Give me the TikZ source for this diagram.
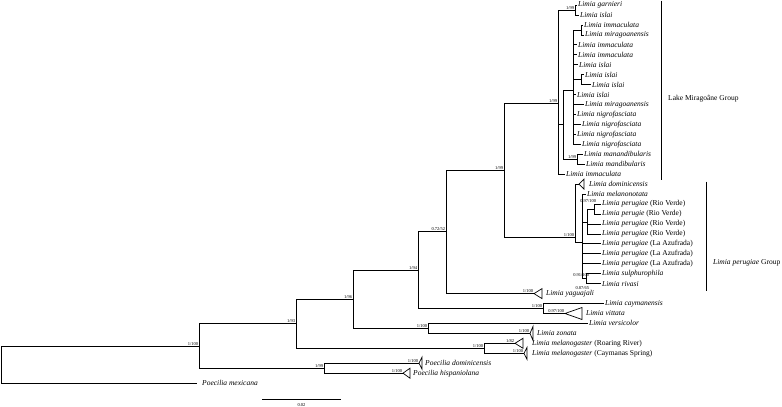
\documentclass[tikz,border=0pt]{standalone}
\usepackage{fontspec}
\setmainfont{Liberation Serif}

\tikzset{
  branch/.style={line width=0.7pt},
  taxon/.style={anchor=west, inner sep=1pt, font=\fontsize{7.5}{8}\selectfont\itshape},
  group/.style={anchor=west, inner sep=0pt, font=\fontsize{7.5}{8}\selectfont},
  support/.style={anchor=south east, inner sep=0.6pt, font=\fontsize{4.5}{5}\selectfont}
}

\begin{document}
\begin{tikzpicture}[x=1pt, y=-1pt]
    \useasboundingbox (0,0) rectangle (782,407);

    \coordinate (root) at (1,364.5);
    \coordinate (nA) at (199,346);
    \coordinate (nB) at (296,323.8);
    \coordinate (nPc) at (324,368.2);
    \coordinate (nC) at (353,299.3);
    \coordinate (nMel) at (484,348.3);
    \coordinate (nE) at (418,270.2);
    \coordinate (nD) at (428,328.4);
    \coordinate (nF) at (446,231.8);
    \coordinate (nG) at (543,308.5);
    \coordinate (nH) at (504,170);
    \coordinate (nM) at (558,103);
    \coordinate (nP) at (575,237);
    \coordinate (nGI) at (575,10);
    \coordinate (nN1) at (563,124.7);
    \coordinate (nN2) at (573,90);
    \coordinate (nIM) at (581,29.9);
    \coordinate (nII) at (581,79.7);
    \coordinate (nMM) at (577,159.3);
    \coordinate (nQ) at (582,242.7);
    \coordinate (nR) at (587,222);
    \coordinate (nS) at (594,209);
    \coordinate (nT) at (586,278.7);

    \coordinate (tGar) at (577,5);
    \coordinate (tIsl1) at (579,15);
    \coordinate (tImm2) at (583,24.9);
    \coordinate (tMir3) at (584,34.9);
    \coordinate (tImm4) at (577,44.8);
    \coordinate (tImm5) at (577,54.8);
    \coordinate (tIsl6) at (578,64.7);
    \coordinate (tIsl7) at (584,74.7);
    \coordinate (tIsl8) at (591,84.6);
    \coordinate (tIsl9) at (576,94.6);
    \coordinate (tMir10) at (584,104.5);
    \coordinate (tNig11) at (576,114.5);
    \coordinate (tNig12) at (581,124.4);
    \coordinate (tNig13) at (576,134.4);
    \coordinate (tNig14) at (581,144.3);
    \coordinate (tMan) at (583,154.3);
    \coordinate (tMand) at (585,164.2);
    \coordinate (tImm17) at (565,174.2);
    \coordinate (tDom) at (579,184.1);
    \coordinate (tMelan) at (586,194.1);
    \coordinate (tRV1) at (601,204);
    \coordinate (tRV2) at (601,214);
    \coordinate (tRV3) at (601,223.9);
    \coordinate (tRV4) at (601,233.9);
    \coordinate (tLA1) at (601,243.8);
    \coordinate (tLA2) at (601,253.8);
    \coordinate (tLA3) at (601,263.7);
    \coordinate (tSul) at (601,273.7);
    \coordinate (tRiv) at (601,283.6);
    \coordinate (tYag) at (534,293.6);
    \coordinate (tCay) at (604,303.5);
    \coordinate (tVit) at (565,313.5);
    \coordinate (tVer) at (588,323.4);
    \coordinate (tZon) at (530,333.4);
    \coordinate (tRR) at (515,343.3);
    \coordinate (tCS) at (524,353.3);
    \coordinate (tPdo) at (419,363.2);
    \coordinate (tPhi) at (403,373.2);
    \coordinate (tMex) at (197,383.1);

    \draw[branch] (root) |- (nA);
    \draw[branch] (root) |- (tMex);
    \draw[branch] (nA) |- (nB);
    \draw[branch] (nA) |- (nPc);
    \draw[branch] (nB) |- (nC);
    \draw[branch] (nB) |- (nMel);
    \draw[branch] (nC) |- (nE);
    \draw[branch] (nC) |- (nD);
    \draw[branch] (nE) |- (nF);
    \draw[branch] (nE) |- (nG);
    \draw[branch] (nF) |- (nH);
    \draw[branch] (nF) |- (tYag);
    \draw[branch] (nH) |- (nM);
    \draw[branch] (nH) |- (nP);
    \draw[branch] (nM) |- (nGI);
    \draw[branch] (nM) |- (nN1);
    \draw[branch] (nM) |- (tImm17);
    \draw[branch] (nGI) |- (tGar);
    \draw[branch] (nGI) |- (tIsl1);
    \draw[branch] (nN1) |- (nN2);
    \draw[branch] (nN1) |- (nMM);
    \draw[branch] (nMM) |- (tMan);
    \draw[branch] (nMM) |- (tMand);
    \draw[branch] (nN2) |- (nIM);
    \draw[branch] (nIM) |- (tImm2);
    \draw[branch] (nIM) |- (tMir3);
    \draw[branch] (nN2) |- (tImm4);
    \draw[branch] (nN2) |- (tImm5);
    \draw[branch] (nN2) |- (tIsl6);
    \draw[branch] (nN2) |- (nII);
    \draw[branch] (nII) |- (tIsl7);
    \draw[branch] (nII) |- (tIsl8);
    \draw[branch] (nN2) |- (tIsl9);
    \draw[branch] (nN2) |- (tMir10);
    \draw[branch] (nN2) |- (tNig11);
    \draw[branch] (nN2) |- (tNig12);
    \draw[branch] (nN2) |- (tNig13);
    \draw[branch] (nN2) |- (tNig14);
    \draw[branch] (nP) |- (tDom);
    \draw[branch] (nP) |- (nQ);
    \draw[branch] (nQ) |- (tMelan);
    \draw[branch] (nQ) |- (nR);
    \draw[branch] (nR) |- (nS);
    \draw[branch] (nS) |- (tRV1);
    \draw[branch] (nS) |- (tRV2);
    \draw[branch] (nR) |- (tRV3);
    \draw[branch] (nR) |- (tRV4);
    \draw[branch] (nQ) |- (tLA1);
    \draw[branch] (nQ) |- (tLA2);
    \draw[branch] (nQ) |- (tLA3);
    \draw[branch] (nQ) |- (nT);
    \draw[branch] (nT) |- (tSul);
    \draw[branch] (nT) |- (tRiv);
    \draw[branch] (nG) |- (tCay);
    \draw[branch] (nG) |- (tVit);
    \draw[branch] (nD) |- (tVer);
    \draw[branch] (nD) |- (tZon);
    \draw[branch] (nMel) |- (tRR);
    \draw[branch] (nMel) |- (tCS);
    \draw[branch] (nPc) |- (tPdo);
    \draw[branch] (nPc) |- (tPhi);

    \draw[branch] (tDom) -- ++(5,-5) -- ++(0,10) -- cycle;
    \draw[branch] (tYag) -- ++(8,-5) -- ++(0,10) -- cycle;
    \draw[branch] (tVit) -- ++(17,-6) -- ++(0,12) -- cycle;
    \draw[branch] (tZon) -- ++(3,-7) -- ++(0,14) -- cycle;
    \draw[branch] (tRR) -- ++(8,-5) -- ++(0,10) -- cycle;
    \draw[branch] (tCS) -- ++(3,-6) -- ++(0,12) -- cycle;
    \draw[branch] (tPdo) -- ++(3,-6) -- ++(0,12) -- cycle;
    \draw[branch] (tPhi) -- ++(7,-5) -- ++(0,10) -- cycle;

    \node[taxon] (lGar) at (tGar) {Limia garnieri};
    \node[taxon] (lIsl1) at (tIsl1) {Limia islai};
    \node[taxon] (lImm2) at (tImm2) {Limia immaculata};
    \node[taxon] (lMir3) at (tMir3) {Limia miragoanensis};
    \node[taxon] (lImm4) at (tImm4) {Limia immaculata};
    \node[taxon] (lImm5) at (tImm5) {Limia immaculata};
    \node[taxon] (lIsl6) at (tIsl6) {Limia islai};
    \node[taxon] (lIsl7) at (tIsl7) {Limia islai};
    \node[taxon] (lIsl8) at (tIsl8) {Limia islai};
    \node[taxon] (lIsl9) at (tIsl9) {Limia islai};
    \node[taxon] (lMir10) at (tMir10) {Limia miragoanensis};
    \node[taxon] (lNig11) at (tNig11) {Limia nigrofasciata};
    \node[taxon] (lNig12) at (tNig12) {Limia nigrofasciata};
    \node[taxon] (lNig13) at (tNig13) {Limia nigrofasciata};
    \node[taxon] (lNig14) at (tNig14) {Limia nigrofasciata};
    \node[taxon] (lMan) at (tMan) {Limia manandibularis};
    \node[taxon] (lMand) at (tMand) {Limia mandibularis};
    \node[taxon] (lImm17) at (tImm17) {Limia immaculata};
    \node[taxon] (lDom) at (588,184.1) {Limia dominicensis};
    \node[taxon] (lMelan) at (tMelan) {Limia melanonotata};
    \node[taxon] (lRV1) at (tRV1) {Limia perugiae \upshape(Rio Verde)};
    \node[taxon] (lRV2) at (tRV2) {Limia perugie \upshape(Rio Verde)};
    \node[taxon] (lRV3) at (tRV3) {Limia perugiae \upshape(Rio Verde)};
    \node[taxon] (lRV4) at (tRV4) {Limia perugiae \upshape(Rio Verde)};
    \node[taxon] (lLA1) at (tLA1) {Limia perugiae \upshape(La Azufrada)};
    \node[taxon] (lLA2) at (tLA2) {Limia perugiae \upshape(La Azufrada)};
    \node[taxon] (lLA3) at (tLA3) {Limia perugiae \upshape(La Azufrada)};
    \node[taxon] (lSul) at (tSul) {Limia sulphurophila};
    \node[taxon] (lRiv) at (tRiv) {Limia rivasi};
    \node[taxon] (lYag) at (545,293.6) {Limia yaguajali};
    \node[taxon] (lCay) at (tCay) {Limia caymanensis};
    \node[taxon] (lVit) at (585,313.5) {Limia vittata};
    \node[taxon] (lVer) at (tVer) {Limia versicolor};
    \node[taxon] (lZon) at (536,333.4) {Limia zonata};
    \node[taxon] (lRR) at (531,343.3) {Limia melanogaster \upshape(Roaring River)};
    \node[taxon] (lCS) at (531,353.3) {Limia melanogaster \upshape(Caymanas Spring)};
    \node[taxon] (lPdo) at (424,363.2) {Poecilia dominicensis};
    \node[taxon] (lPhi) at (412,373.2) {Poecilia hispaniolana};
    \node[taxon] (lMex) at (201,383.1) {Poecilia mexicana};

    \node[support] (sA) at (nA) {1/100};
    \node[support] (sB) at (nB) {1/93};
    \node[support] (sPc) at (nPc) {1/99};
    \node[support] (sC) at (nC) {1/96};
    \node[support] (sMel) at (nMel) {1/100};
    \node[support] (sE) at (nE) {1/94};
    \node[support] (sD) at (nD) {1/100};
    \node[support] (sF) at (nF) {0.72/52};
    \node[support] (sG) at (nG) {1/100};
    \node[support] (sH) at (nH) {1/99};
    \node[support] (sM) at (nM) {1/99};
    \node[support] (sP) at (nP) {1/100};
    \node[support] (sGI) at (nGI) {1/99};
    \node[support] (sMM) at (nMM) {1/99};
    \node[support] (sS) at (597,203) {0.97/100};
    \node[support] (sT) at (590,277) {0.91/100};
    \node[support] (sQ) at (590,290) {0.87/65};
    \node[support] (sYag) at (tYag) {1/100};
    \node[support] (sVit) at (tVit) {0.97/100};
    \node[support] (sZon) at (tZon) {1/100};
    \node[support] (sRR) at (tRR) {1/82};
    \node[support] (sCS) at (tCS) {1/100};
    \node[support] (sPdo) at (tPdo) {1/100};
    \node[support] (sPhi) at (tPhi) {1/100};

    \coordinate (gM1) at (661,0.5);
    \coordinate (gM2) at (661,180);
    \coordinate (gP1) at (706,181.5);
    \coordinate (gP2) at (706,291);
    \draw[branch] (gM1) -- (gM2);
    \draw[branch] (gP1) -- (gP2);
    \node[group] (lakeM) at (668,99) {Lake Miragoâne Group};
    \node[group] (groupP) at (713,263) {\itshape Limia perugiae\upshape\ Group};

    \coordinate (sb1) at (262,399);
    \coordinate (sb2) at (341,399);
    \draw[branch] (sb1) -- (sb2);
    \node[font=\fontsize{4.5}{5}\selectfont, inner sep=0pt] (sbl) at (301.5,405) {0.02};
\end{tikzpicture}
\end{document}
